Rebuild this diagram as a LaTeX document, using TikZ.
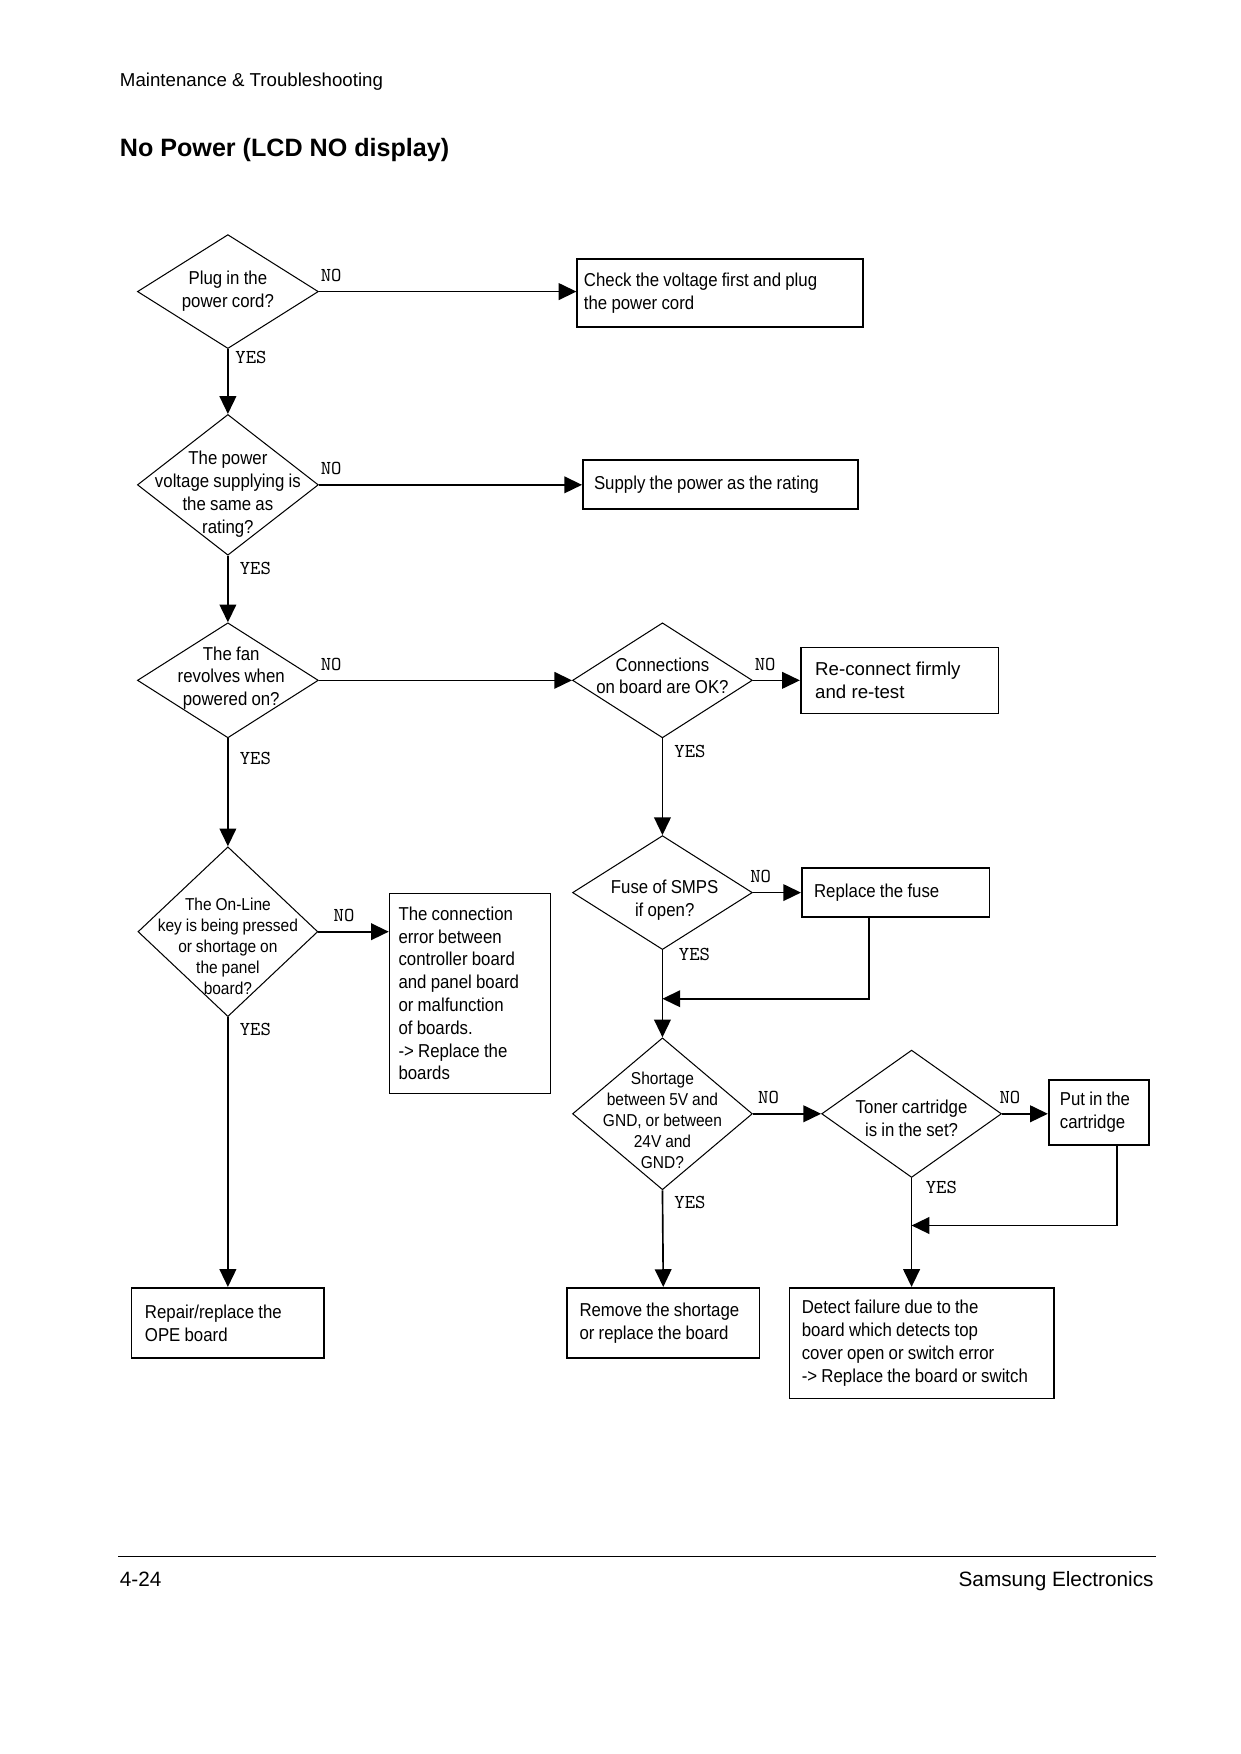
\documentclass[tikz,border=0pt]{standalone}
\usepackage{fontspec}
\setmainfont{Liberation Sans}
\newfontfamily\narrowfont{Liberation Sans}[FakeStretch=0.9,WordSpace=0.9]
\usetikzlibrary{arrows.meta,shapes.geometric}
\def\dpx{0.53622bp}

\begin{document}
\begin{tikzpicture}[x=0.53622bp,y=-0.53622bp,>={Triangle[length=8.5bp,width=8bp]},
	decision/.style={diamond,draw,line width=.5pt,inner sep=0pt},
	dtext/.style={align=center,inner sep=0pt,font=\narrowfont\fontsize{9}{11}\selectfont},
	stext/.style={align=center,inner sep=0pt,font=\narrowfont\fontsize{8.3}{10.1}\selectfont},
	actbox/.style n args={3}{draw,line width=.8pt,rectangle,anchor=north west,align=flush left,
		inner ysep=0pt,inner xsep=#3*\dpx,minimum width=#1*\dpx,minimum height=#2*\dpx,
		text width=(#1-2*#3)*\dpx,font=\narrowfont\fontsize{9}{11}\selectfont},
	no/.style={pos=0,anchor=south west,inner sep=0pt,font=\ttfamily\fontsize{9.5}{9.5}\selectfont,xshift=1*\dpx,yshift=8*\dpx},
	yes/.style={pos=0,anchor=north west,inner sep=0pt,font=\ttfamily\fontsize{9.5}{9.5}\selectfont,xshift=10*\dpx,yshift=-5*\dpx}]

\useasboundingbox (0,0) rectangle (1110,1570.1);

\node[anchor=base west,inner sep=0pt,font=\fontsize{9}{11}\selectfont] (hdr) at (107,77) {Maintenance \& Troubleshooting};
\node[anchor=base west,inner sep=0pt,font=\bfseries\fontsize{12.1}{14}\selectfont] (ttl) at (107,140) {No Power (LCD NO display)};

\node[decision,minimum width=162*\dpx,minimum height=102*\dpx,label={[dtext]center:{Plug in the\\power cord?}}] (d1) at (204,261) {};
	\node[decision,minimum width=162*\dpx,minimum height=126*\dpx,label={[dtext,yshift=-8.5*\dpx]center:{The power\\voltage supplying is\\the same as\\rating?}}] (d2) at (204,434) {};
	\node[decision,minimum width=162*\dpx,minimum height=103*\dpx,label={[dtext,xshift=3*\dpx,yshift=2*\dpx]center:{The fan\\revolves when\\powered on?}}] (d3) at (204,609) {};
	\node[decision,minimum width=161*\dpx,minimum height=152*\dpx,label={[stext,yshift=-13*\dpx]center:{The On-Line\\key is being pressed\\or shortage on\\the panel\\board?}}] (d8) at (204,834) {};
	\node[decision,minimum width=161*\dpx,minimum height=103*\dpx,label={[dtext,yshift=4*\dpx]center:{Connections\\on board are OK?}}] (d4) at (593,609) {};
	\node[decision,minimum width=161*\dpx,minimum height=102*\dpx,label={[dtext,xshift=2*\dpx,yshift=-7*\dpx]center:{Fuse of SMPS\\if open?}}] (d5) at (593,799) {};
	\node[decision,minimum width=161*\dpx,minimum height=136*\dpx,label={[stext,yshift=-5.5*\dpx]center:{Shortage\\between 5V and\\GND, or between\\24V and\\GND?}}] (d6) at (593,997) {};
	\node[decision,minimum width=161*\dpx,minimum height=114*\dpx,label={[dtext,yshift=-4*\dpx]center:{Toner cartridge\\is in the set?}}] (d7) at (816,997) {};

\node[actbox={256}{61}{6}] (b1) at (516,231) {Check the voltage first and plug\\the power cord};
	\node[actbox={246}{44}{10}] (b2) at (521,411) {Supply the power as the rating};
	\node[actbox={177}{59}{13},font=\fontsize{9}{11}\selectfont] (b3) at (716,579) {Re-connect firmly\\and re-test};
	\node[actbox={168}{44}{11}] (b4) at (717,776) {Replace the fuse};
	\node[actbox={144}{179}{8}] (b5) at (348,799) {The connection\\error between\\controller board\\and panel board\\or malfunction\\of boards.\\-> Replace the\\boards};
	\node[actbox={172}{63}{12}] (b6) at (117,1152) {Repair/replace the\\OPE board};
	\node[actbox={90}{58}{10}] (b7) at (938,966) {Put in the\\cartridge};
	\node[actbox={237}{99}{11}] (b8) at (706,1152) {Detect failure due to the\\board which detects top\\cover open or switch error\\-> Replace the board or switch};
	\node[actbox={172}{63}{11}] (b9) at (507,1152) {Remove the shortage\\or replace the board};

\coordinate (f1) at (778,894);
\coordinate (f2) at (1000,1097);

\path[->,line width=.8pt] (d1.east) edge node[no] {NO} (d1.east -| b1.west)
		(d1.south) edge node[yes,xshift=-4*\dpx,yshift=3.5*\dpx] {YES} (d2.north)
	(d2.east) edge node[no] {NO} (d2.east -| b2.west)
		(d2.south) edge node[yes] {YES} (d3.north)
	(d3.east) edge node[no] {NO} (d4.west)
		(d3.south) edge node[yes,yshift=-7*\dpx] {YES} (d8.north)
	(d4.east) edge node[no] {NO} (d4.east -| b3.west)
		(d4.south) edge node[yes] {YES} (d5.north)
	(d5.east) edge node[no,xshift=-4*\dpx] {NO} (d5.east -| b4.west)
		(d5.south) edge node[yes,xshift=4*\dpx,yshift=7*\dpx] {YES} (d6.north)
	(d8.east) edge node[no,xshift=12*\dpx] {NO} (d8.east -| b5.west)
		(d8.south) edge node[yes] {YES} (d8.south |- b6.north)
	(d6.east) edge node[no,xshift=3*\dpx] {NO} (d7.west)
		(d6.south) edge node[yes] {YES} (b9.north)
	(d7.east) edge node[no,xshift=-4*\dpx] {NO} (d7.east -| b7.west)
		(d7.south) edge node[yes,xshift=2*\dpx,yshift=2.5*\dpx] {YES} (d7.south |- b8.north);

\draw[->,line width=.8pt] (b4.south -| f1) -- (f1) -- (f1 -| d5.south);
\draw[->,line width=.8pt] (b7.south -| f2) -- (f2) -- (f2 -| d7.south);

\draw[line width=.6pt] (106,1393) -- (1035,1393);
\node[anchor=base west,inner sep=0pt,font=\fontsize{10}{12}\selectfont] (pg) at (107,1420) {4-24};
\node[anchor=base east,inner sep=0pt,font=\fontsize{10}{12}\selectfont] (co) at (1033,1420) {Samsung Electronics};

\end{tikzpicture}
\end{document}
